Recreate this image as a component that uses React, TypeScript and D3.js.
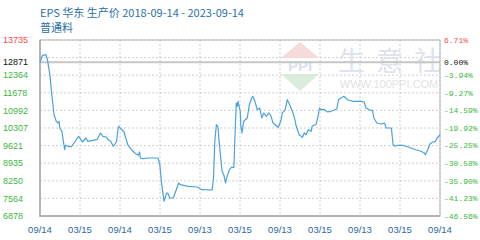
import React from "react";
import * as d3 from "d3";

const dates: string[] = [
  "2018-09-14","2018-09-26","2018-10-11","2018-10-17","2018-10-29","2018-11-07","2018-11-17","2018-11-27",
  "2018-12-05","2018-12-10","2018-12-13","2018-12-23","2019-01-01","2019-01-05","2019-01-08","2019-01-20",
  "2019-02-04","2019-02-20","2019-03-09","2019-03-20","2019-03-27","2019-04-12","2019-04-20","2019-05-13",
  "2019-06-01","2019-06-17","2019-06-28","2019-07-13","2019-07-22","2019-08-03","2019-08-14","2019-08-29",
  "2019-09-06","2019-09-09","2019-09-18","2019-10-03","2019-10-10","2019-10-21","2019-11-06","2019-11-21",
  "2019-12-06","2019-12-13","2019-12-16","2019-12-29","2020-01-21","2020-03-06","2020-03-14","2020-03-21",
  "2020-03-29","2020-04-02","2020-04-14","2020-04-19","2020-04-29","2020-05-14","2020-05-20","2020-05-31",
  "2020-06-08","2020-06-15","2020-07-23","2020-08-31","2020-09-23","2020-11-08","2020-11-14","2020-11-20",
  "2020-11-27","2020-12-04","2020-12-11","2020-12-23","2020-12-31","2021-01-08","2021-01-15","2021-01-26",
  "2021-02-04","2021-02-15","2021-02-22","2021-02-26","2021-03-03","2021-03-06","2021-03-16","2021-03-19",
  "2021-03-24","2021-04-01","2021-04-17","2021-04-27","2021-05-07","2021-05-13","2021-05-22","2021-06-02",
  "2021-06-13","2021-06-22","2021-07-02","2021-07-13","2021-07-25","2021-08-02","2021-08-13","2021-08-25",
  "2021-09-06","2021-09-17","2021-09-24","2021-10-07","2021-10-17","2021-10-28","2021-11-06","2021-11-17",
  "2021-11-27","2021-12-10","2021-12-25","2022-01-02","2022-01-10","2022-01-21","2022-02-03","2022-02-07",
  "2022-02-26","2022-03-06","2022-03-13","2022-03-21","2022-04-05","2022-04-19","2022-05-04","2022-05-18",
  "2022-05-31","2022-06-08","2022-06-18","2022-07-03","2022-07-18","2022-08-02","2022-08-12","2022-09-18",
  "2022-10-03","2022-10-11","2022-10-26","2022-11-10","2022-11-16","2022-11-30","2022-12-20","2023-01-04",
  "2023-01-11","2023-02-04","2023-02-12","2023-02-20","2023-03-07","2023-03-28","2023-04-12","2023-05-05",
  "2023-05-27","2023-06-19","2023-07-05","2023-07-09","2023-07-20","2023-07-30","2023-08-12","2023-08-25",
  "2023-09-01","2023-09-14"
];

const prices: number[] = [
  12871,13139,13162,13006,12383,11604,10825,10568,
  10501,10568,10307,10178,9656,9461,9633,9594,
  9578,9761,9983,9851,9761,9917,9788,9827,
  9851,10112,9983,9956,9851,9788,9594,9761,
  10307,10373,10279,10151,9917,9633,9461,9333,
  9243,9372,9138,9111,9138,9138,8877,8230,
  7708,7451,7774,7774,7579,7579,7708,7969,
  8164,8097,8035,8008,7903,7891,8359,9788,
  10435,10373,9656,8620,8487,8164,8425,8682,
  8775,8775,10435,11281,11152,11347,10957,10373,
  10112,10568,10696,11214,11475,11542,11347,11019,
  11086,10696,10891,10762,10891,10801,10501,10412,
  10334,10568,10891,11019,11409,11214,11019,10762,
  10373,10045,9944,10112,10045,10240,10178,10373,
  10462,10762,11086,11019,11019,10930,10957,10996,
  11058,11409,11475,11542,11409,11370,11347,11347,
  11320,11086,11019,10981,10696,10501,10462,10501,
  10307,10307,9656,9594,9633,9633,9594,9527,
  9461,9399,9333,9266,9461,9683,9761,9788,
  9917,10045
];

const baseValue = 12871;
const leftTickValues: number[] = [13735, 12871, 12364, 11678, 10992, 10307, 9621, 8935, 8250, 7564, 6878];
const leftTickLabels: string[] = ["13735","12871","12364","11678","10992","10307","9621","8935","8250","7564","6878"];
const rightTickLabels: string[] = ["6.71%","0.00%","-3.94%","-9.27%","-14.59%","-19.92%","-25.25%","-30.58%","-35.90%","-41.23%","-46.56%"];
const xTickLabels: string[] = ["09/14","03/15","09/14","03/15","09/13","03/15","09/13","03/15","09/13","03/15","09/14"];
const startDate = "2018-09-14";
const endDate = "2023-09-14";
const titleText = "EPS 华东 生产价 2018-09-14 - 2023-09-14";
const subtitleText = "普通料";
const watermarkChars: string[] = ["生", "意", "社"];

const W = 480, H = 240;
const M = { left: 40, right: 40, top: 40, bottom: 24 };

export default function App() {
  const parse = d3.utcParse("%Y-%m-%d");
  const t0 = parse(startDate)!;
  const t1 = parse(endDate)!;
  const yMax = leftTickValues[0];
  const yMin = leftTickValues[leftTickValues.length - 1];

  const x = d3.scaleUtc().domain([t0, t1]).range([M.left, W - M.right]);
  const y = d3.scaleLinear().domain([yMin, yMax]).range([H - M.bottom, M.top]);

  const gridVals = d3.range(11).map((i) => yMax - (i * (yMax - yMin)) / 10);
  const xTickTimes = xTickLabels.map((_, i) => new Date(t0.getTime() + (i * (t1.getTime() - t0.getTime())) / (xTickLabels.length - 1)));

  const data = dates.map((d, i) => ({ t: parse(d)!, v: prices[i] }));
  const line = d3.line<{ t: Date; v: number }>().x((d) => x(d.t)).y((d) => y(d.v));

  const colorFor = (v: number) => (v > baseValue ? "#ff4a4a" : v === baseValue ? "#111" : "#3cb83c");

  const x0 = M.left, x1 = W - M.right, yTop = M.top, yBot = H - M.bottom;

  return (
    <svg width={W} height={H} style={{ position: "absolute", left: 0, top: 0, background: "#fff" }}>
      <rect x={0} y={0} width={W} height={H} fill="#fff" />
      <text x={40} y={17} fontFamily="'Noto Sans CJK SC', 'Liberation Sans', sans-serif" fontSize={11} fill="#2b6fa8">{titleText}</text>
      <text x={40} y={32} fontFamily="'Noto Sans CJK SC', sans-serif" fontSize={11} fill="#2b6fa8">{subtitleText}</text>

      {/* grid */}
      {gridVals.map((v, i) => (
        <line key={"h" + i} x1={x0} x2={x1} y1={y(v)} y2={y(v)} stroke="#cfcfcf" strokeWidth={1} strokeDasharray="2,2" />
      ))}
      {xTickTimes.map((t, i) => (
        <line key={"v" + i} x1={x(t)} x2={x(t)} y1={yTop} y2={yBot} stroke="#cfcfcf" strokeWidth={1} strokeDasharray="2,2" />
      ))}

      {/* watermark */}
      <g opacity={0.9}>
        <path d={`M300,42 L319,58 L281,58 Z`} fill="#f7d6d6" />
        <text x={300} y={71} textAnchor="middle" fontFamily="'Liberation Sans', sans-serif" fontWeight="bold" fontSize={15} fill="#d6ddec">PPI</text>
        <path d={`M281,74 L319,74 L300,91 Z`} fill="#d7ecd7" />
        {watermarkChars.map((c, i) => (
          <text key={"w" + i} x={338 + i * 38} y={71} fontFamily="'Noto Sans CJK SC', sans-serif" fontSize={27} fill="#dbe0ec">{c}</text>
        ))}
        <text x={389} y={88} textAnchor="middle" fontFamily="'Liberation Sans', sans-serif" fontSize={11} fill="#e0e0e0">WWW.100PPI.COM</text>
      </g>

      {/* base line */}
      <line x1={x0} x2={x1} y1={y(baseValue)} y2={y(baseValue)} stroke="#c6c6c6" strokeWidth={2} />

      {/* frame */}
      <rect x={x0} y={yTop} width={x1 - x0} height={yBot - yTop} fill="none" stroke="#b4b4b4" strokeWidth={1} />
      <line x1={x0} x2={x0} y1={yTop} y2={yBot + 1} stroke="#aaa" strokeWidth={1.5} />
      <line x1={x0} x2={x1} y1={yBot} y2={yBot} stroke="#aaa" strokeWidth={1.5} />

      {/* data line */}
      <path d={line(data) || ""} fill="none" stroke="#4aa2dc" strokeWidth={1.2} strokeLinejoin="round" />

      {/* left labels */}
      {leftTickValues.map((v, i) => (
        <text key={"l" + i} x={3} y={y(v)} dy="0.35em" fontFamily="'Liberation Sans', Arial, sans-serif" fontSize={9} fill={colorFor(v)}>{leftTickLabels[i]}</text>
      ))}
      {/* right labels */}
      {leftTickValues.map((v, i) => (
        <text key={"r" + i} x={444} y={y(v)} dy="0.35em" fontFamily="'Liberation Mono', monospace" fontSize={8} fill={colorFor(v)}>{rightTickLabels[i]}</text>
      ))}
      {/* x labels */}
      {xTickTimes.map((t, i) => (
        <text key={"x" + i} x={x(t)} y={230} dy="0.35em" textAnchor="middle" fontFamily="'Liberation Sans', Arial, sans-serif" fontSize={9.5} fill="#2a6aa0">{xTickLabels[i]}</text>
      ))}
    </svg>
  );
}
